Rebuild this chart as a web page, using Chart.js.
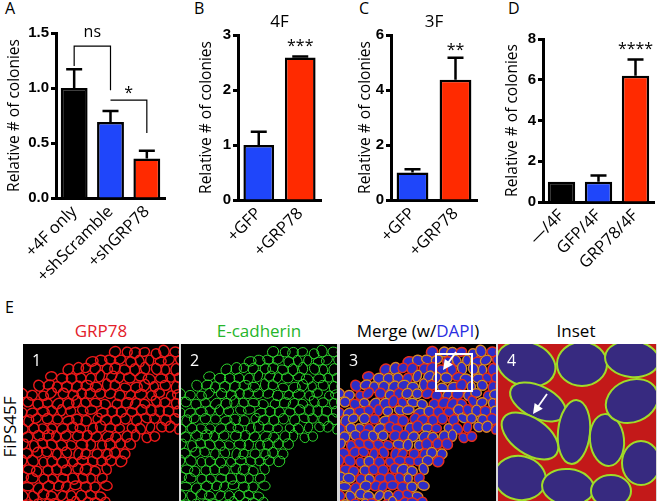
<!DOCTYPE html>
<html>
<head>
<meta charset="utf-8">
<script src="https://cdn.jsdelivr.net/npm/chart.js@4.4.1/dist/chart.umd.min.js"></script>
<style>
  body { margin: 0; background: #fff; width: 657px; height: 501px; position: relative; overflow: hidden; font-family: 'Open Sans', sans-serif; }
  canvas { position: absolute; }
  .t { position: absolute; font-size: 16px; line-height: 20px; color: #000; white-space: nowrap; }
  .h { font-size: 17px; }
  .c { transform: translateX(-50%); }
</style>
</head>
<body>
<div class="t" style="left:5px;top:-2px">A</div>
<div class="t" style="left:194px;top:-2px">B</div>
<div class="t" style="left:359px;top:-2px">C</div>
<div class="t" style="left:508px;top:-2px">D</div>
<div class="t" style="left:5px;top:297px">E</div>

<canvas id="chartA"></canvas>
<canvas id="chartB"></canvas>
<canvas id="chartC"></canvas>
<canvas id="chartD"></canvas>

<div class="t h c" style="left:101px;top:321px;color:#e3202a">GRP78</div>
<div class="t h c" style="left:259px;top:321px;color:#25b52a">E-cadherin</div>
<div class="t h c" style="left:418px;top:321px">Merge (w/<span style="color:#2a2ee0">DAPI</span>)</div>
<div class="t h c" style="left:576px;top:321px">Inset</div>
<div class="t h" style="left:-20px;top:417px;transform:rotate(-90deg)">FiPS45F</div>
<canvas id="cells" width="634" height="157" style="left:23px;top:344px"></canvas>

<script>
// panel A
var labelsA = ['+4F only', '+shScramble', '+shGRP78'];
var valuesA = [1.0, 0.69, 0.36];
var errorsA = [0.17, 0.10, 0.07];
var ticksA = ['0.0', '0.5', '1.0', '1.5'];

// panel B (4F)
var labelsB = ['+GFP', '+GRP78'];
var valuesB = [1.0, 2.59];
var errorsB = [0.24, 0.02];
var ticksB = ['0', '1', '2', '3'];

// panel C (3F)
var labelsC = ['+GFP', '+GRP78'];
var valuesC = [1.0, 4.37];
var errorsC = [0.12, 0.8];
var ticksC = ['0', '2', '4', '6'];

// panel D
var labelsD = ['\u2014/4F', 'GFP/4F', 'GRP78/4F'];
var valuesD = [1.0, 1.0, 6.2];
var errorsD = [0, 0.3, 0.8];
var ticksD = ['0', '2', '4', '6', '8'];

var BLACK = '#000000', BLUE = '#1f46fa', RED = '#ff2a00';

var errPlugin = {
  id: 'errbars',
  afterDatasetsDraw: function (chart) {
    var ds = chart.data.datasets[0], meta = chart.getDatasetMeta(0), y = chart.scales.y, ctx = chart.ctx;
    ctx.save();
    ctx.strokeStyle = '#000';
    ctx.lineWidth = 2.5;
    meta.data.forEach(function (bar, i) {
      var e = ds.errors[i];
      if (!e) return;
      var top = y.getPixelForValue(ds.data[i] + e);
      ctx.beginPath();
      ctx.moveTo(bar.x, bar.y);
      ctx.lineTo(bar.x, top);
      ctx.moveTo(bar.x - 8, top);
      ctx.lineTo(bar.x + 8, top);
      ctx.stroke();
    });
    ctx.restore();
  }
};

var notePlugin = {
  id: 'notes',
  afterDraw: function (chart, args, opts) {
    var ctx = chart.ctx, x = chart.scales.x, y = chart.scales.y, a = chart.chartArea;
    ctx.save();
    ctx.fillStyle = '#000';
    ctx.strokeStyle = '#000';
    ctx.textAlign = 'center';
    ctx.font = '16px "Open Sans"';
    if (opts.title) {
      ctx.font = '17px "Open Sans"';
      ctx.textBaseline = 'middle';
      ctx.fillText(opts.title, (a.left + a.right) / 2, a.top - 13);
      ctx.font = '16px "Open Sans"';
    }
    ctx.textBaseline = 'alphabetic';
    (opts.stars || []).forEach(function (s) {
      ctx.fillText(s.text, x.getPixelForValue(s.i), y.getPixelForValue(s.v));
    });
    ctx.lineWidth = 1.2;
    (opts.brackets || []).forEach(function (b) {
      var x1 = x.getPixelForValue(b.from), x2 = x.getPixelForValue(b.to), yt = y.getPixelForValue(b.top);
      ctx.beginPath();
      ctx.moveTo(x1, y.getPixelForValue(b.ends[0]));
      ctx.lineTo(x1, yt);
      ctx.lineTo(x2, yt);
      ctx.lineTo(x2, y.getPixelForValue(b.ends[1]));
      ctx.stroke();
      ctx.fillText(b.text, (x1 + x2) / 2, y.getPixelForValue(b.textV));
    });
    ctx.restore();
  }
};

function barChart(id, area, yw, labels, values, errors, colors, yMax, yStep, tickText, notes) {
  var padTop = 32, padRight = 6, xh = 100;
  var cv = document.getElementById(id);
  var left = area.l - yw, top = area.t - padTop;
  cv.style.left = left + 'px';
  cv.style.top = top + 'px';
  cv.width = area.r - left + padRight;
  cv.height = area.b - top + xh;
  return new Chart(cv.getContext('2d'), {
    type: 'bar',
    data: {
      labels: labels,
      datasets: [{
        data: values,
        errors: errors,
        backgroundColor: colors,
        borderColor: '#000',
        borderWidth: 2.5,
        barPercentage: 0.74,
        categoryPercentage: 1
      }]
    },
    options: {
      responsive: false,
      animation: false,
      layout: { padding: { top: padTop, right: padRight, left: 0, bottom: 0 } },
      plugins: { legend: { display: false }, tooltip: { enabled: false }, notes: notes },
      scales: {
        x: {
          grid: { display: true, drawOnChartArea: false, drawTicks: false },
          border: { display: true, width: 3, color: '#000' },
          ticks: { minRotation: 45, maxRotation: 45, color: '#000', padding: 4,
                   font: { family: 'Open Sans', size: 16.5 } },
          afterFit: function (s) { s.height = xh; }
        },
        y: {
          min: 0, max: yMax,
          ticks: { stepSize: yStep, color: '#000', padding: 2,
                   font: { family: 'Liberation Sans', size: 15, weight: 'bold' },
                   callback: function (v, i) { return tickText[i]; } },
          grid: { display: true, drawOnChartArea: false, tickLength: 5, tickWidth: 3, tickColor: '#000' },
          border: { width: 3, color: '#000' },
          title: { display: true, text: 'Relative # of colonies', color: '#000', padding: 0,
                   font: { family: 'Open Sans', size: 15.5 } },
          afterFit: function (s) { s.width = yw; }
        }
      }
    },
    plugins: [errPlugin, notePlugin]
  });
}

barChart('chartA', { l: 56, t: 33, r: 165, b: 198 }, 51, labelsA, valuesA, errorsA,
  [BLACK, BLUE, RED], 1.5, 0.5, ticksA,
  { brackets: [
      { from: 0, to: 1, top: 1.38, ends: [1.2, 0.98], text: 'ns', textV: 1.46 },
      { from: 1, to: 2, top: 0.89, ends: [0.89, 0.59], text: '*', textV: 0.91 }
  ] });

barChart('chartB', { l: 238, t: 35, r: 321, b: 200 }, 41, labelsB, valuesB, errorsB,
  [BLUE, RED], 3, 1, ticksB,
  { title: '4F', stars: [{ i: 1, v: 2.71, text: '***' }] });

barChart('chartC', { l: 391, t: 35, r: 477, b: 200 }, 35, labelsC, valuesC, errorsC,
  [BLUE, RED], 6, 2, ticksC,
  { title: '3F', stars: [{ i: 1, v: 5.27, text: '**' }] });

barChart('chartD', { l: 543, t: 39, r: 654, b: 202 }, 40, labelsD, valuesD, errorsD,
  [BLACK, BLUE, RED], 8, 2, ticksD,
  { stars: [{ i: 2, v: 7.24, text: '****' }] });

// ---- panel E: sketch of the immunofluorescence images ----
(function () {
  var cv = document.getElementById('cells'), ctx = cv.getContext('2d');
  var W = 156, H = 157, xs = [0, 158, 317, 475];
  ctx.fillStyle = '#d8d8d8';
  ctx.fillRect(0, 0, cv.width, cv.height);

  function hash(i, j, k) {
    var s = Math.sin(i * 12.9898 + j * 78.233 + k * 37.719) * 43758.5453;
    return s - Math.floor(s);
  }
  function inside(x, y) {
    var edge = x < 118 ? 42 * Math.pow(1 - x / 118, 1.5) : 0;
    if (y < edge + 3) return false;
    var dx = x - 160, dy = y - 166;
    return dx * dx + dy * dy > 78 * 78;
  }

  function colony(ox, kind) {
    ctx.save();
    ctx.beginPath();
    ctx.rect(ox, 0, W, H);
    ctx.clip();
    ctx.fillStyle = '#000';
    ctx.fillRect(ox, 0, W, H);
    for (var j = 0; j < 20; j++) {
      for (var i = 0; i < 17; i++) {
        var cx = i * 9.8 + (j % 2) * 4.9 + (hash(i, j, 1) - 0.5) * 3;
        var cy = j * 8.4 + (hash(i, j, 2) - 0.5) * 3;
        if (!inside(cx, cy)) continue;
        var rx = 4.8 + hash(i, j, 3) * 1.3, ry = 4.0 + hash(i, j, 4) * 1.2, rot = hash(i, j, 5) * Math.PI;
        ctx.beginPath();
        ctx.ellipse(ox + cx, cy, rx, ry, rot, 0, Math.PI * 2);
        if (kind === 1) {
          ctx.strokeStyle = 'rgb(235,25,25)'; ctx.lineWidth = 1.4; ctx.stroke();
        } else if (kind === 2) {
          ctx.strokeStyle = 'rgb(45,215,45)'; ctx.lineWidth = 1.0; ctx.stroke();
        } else {
          ctx.fillStyle = 'rgb(45,45,200)'; ctx.fill();
          ctx.strokeStyle = 'rgb(225,45,30)'; ctx.lineWidth = 1.5; ctx.stroke();
          if (hash(i, j, 6) > 0.55) {
            ctx.strokeStyle = 'rgba(170,230,50,0.9)'; ctx.lineWidth = 0.8; ctx.stroke();
          }
        }
      }
    }
    ctx.restore();
  }

  colony(xs[0], 1);
  colony(xs[1], 2);
  colony(xs[2], 3);

  // panel 4 (inset)
  var o4 = xs[3];
  ctx.save();
  ctx.beginPath();
  ctx.rect(o4, 0, 158, H);
  ctx.clip();
  ctx.fillStyle = 'rgb(195,25,25)';
  ctx.fillRect(o4, 0, 158, H);
  var big = [
    [28, 20, 30, 22, 0.3], [84, 20, 25, 22, 0.0], [134, 15, 27, 18, 0.1],
    [40, 58, 30, 16, 0.45], [32, 92, 32, 18, 0.6], [76, 88, 16, 32, 0.1],
    [109, 96, 17, 26, -0.1], [134, 57, 27, 21, -0.4], [143, 119, 19, 22, 0.0],
    [22, 134, 26, 22, 0.2], [70, 143, 26, 18, 0.1], [113, 147, 20, 16, 0.0]
  ];
  big.forEach(function (c) {
    ctx.beginPath();
    ctx.ellipse(o4 + c[0], c[1], c[2], c[3], c[4], 0, Math.PI * 2);
    ctx.fillStyle = 'rgb(55,42,128)';
    ctx.fill();
    ctx.strokeStyle = 'rgb(160,220,40)';
    ctx.lineWidth = 2;
    ctx.stroke();
  });
  ctx.restore();

  function arrow(x1, y1, x2, y2) {
    var ang = Math.atan2(y2 - y1, x2 - x1);
    ctx.strokeStyle = '#fff';
    ctx.fillStyle = '#fff';
    ctx.lineWidth = 1.8;
    ctx.beginPath();
    ctx.moveTo(x1, y1);
    ctx.lineTo(x2 - 6 * Math.cos(ang), y2 - 6 * Math.sin(ang));
    ctx.stroke();
    ctx.beginPath();
    ctx.moveTo(x2, y2);
    ctx.lineTo(x2 - 10 * Math.cos(ang) + 5 * Math.sin(ang), y2 - 10 * Math.sin(ang) - 5 * Math.cos(ang));
    ctx.lineTo(x2 - 10 * Math.cos(ang) - 5 * Math.sin(ang), y2 - 10 * Math.sin(ang) + 5 * Math.cos(ang));
    ctx.closePath();
    ctx.fill();
  }

  ctx.strokeStyle = '#fff';
  ctx.lineWidth = 2;
  ctx.strokeRect(xs[2] + 96, 10, 36, 37);
  arrow(xs[2] + 116, 8, xs[2] + 103, 26);
  arrow(o4 + 49, 50, o4 + 35, 70);

  ctx.fillStyle = '#fff';
  ctx.font = '16px "Open Sans"';
  ctx.textBaseline = 'alphabetic';
  ['1', '2', '3', '4'].forEach(function (n, k) {
    ctx.fillText(n, xs[k] + 9, 22);
  });
})();
</script>
</body>
</html>
